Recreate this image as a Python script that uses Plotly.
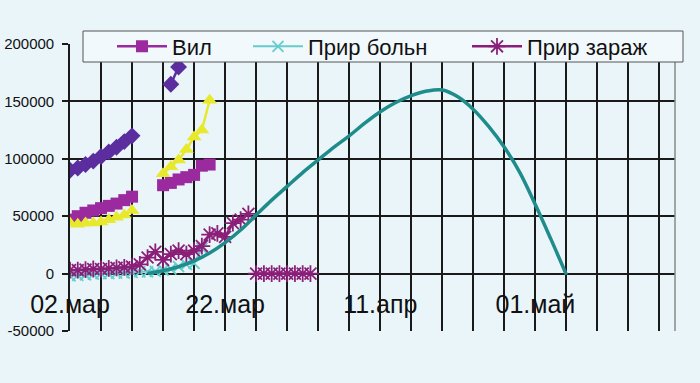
import plotly.graph_objects as go

# ---- data (x = days since 02.мар) ----
tick_days = [0, 20, 40, 60]
tick_labels = ["02.мар", "22.мар", "11.апр", "01.май"]
y_ticks = [-50000, 0, 50000, 100000, 150000, 200000]
y_tick_labels = ["-50000", "0", "50000", "100000", "150000", "200000"]

days_a = [0, 1, 2, 3, 4, 5, 6, 7, 8]
diamond_a = [90000, 92000, 95000, 98000, 102000, 106000, 110000, 115000, 120000]
days_diamond_b = [13, 14]
diamond_b = [165000, 180000]

vyl_a = [47000, 50000, 53000, 55000, 57000, 59000, 61000, 64000, 67000]
days_b = [12, 13, 14, 15, 16, 17, 18]
vyl_b = [77000, 79000, 82000, 84000, 86000, 94000, 95000]

yellow_a = [44000, 43000, 44000, 44000, 45000, 47000, 49000, 51000, 55000]
yellow_b = [87000, 93000, 99000, 108000, 119000, 125000, 151000]

days_bol = list(range(0, 18))
prir_boln = [-2000, -1500, -1000, -500, 0, 0, 500, 500, 1000, 1500, 1500,
             2000, 3000, 4000, 6000, 8000, 9000, 22000]

days_zar_a = list(range(0, 24))
prir_zar_a = [3000, 3000, 3500, 4000, 4000, 4500, 5000, 5500, 6000, 8000,
              14000, 19000, 12000, 17000, 20000, 17000, 20000, 24000, 34000,
              35000, 32000, 44000, 47000, 52000]
days_zar_b = [24, 25, 26, 27, 28, 29, 30, 31]
prir_zar_b = [0, 0, 0, 0, 0, 0, 0, 0]

curve_days = [10, 12, 14, 16, 18, 20, 22, 24, 26, 28, 30, 32, 34, 36, 38, 40,
              42, 44, 46, 48, 50, 52, 54, 56, 58, 60, 62, 64]
curve_vals = [0, 2500, 6000, 11000, 18000, 27000, 38000, 51000, 64000, 76000,
              88000, 99000, 110000, 120000, 131000, 141000, 149000, 155000,
              159000, 160000, 154000, 143000, 128000, 110000, 88000, 60000,
              30000, -1000]

C_VYL = "#9b2a9f"
C_BOL = "#66cccc"
C_ZAR = "#8b1f78"
C_DIA = "#5b2d9e"
C_YEL = "#e8e82c"
C_CUR = "#1f8c8c"
BG = "#eaf5fa"
FONT = "Arial, Liberation Sans, sans-serif"
W, H = 700, 383
ML, MR, MT, MB = 70, 25, 44, 52
PW, PH = W - ML - MR, H - MT - MB


def seg(xa, ya, xb, yb):
    return list(xa) + [None] + list(xb), list(ya) + [None] + list(yb)


def px_x(px):  # pixel -> paper (plot-area) x
    return (px - ML) / PW


def px_y(py):  # pixel -> paper (plot-area) y
    return (H - MB - py) / PH


fig = go.Figure()

x, y = seg(days_a, diamond_a, days_diamond_b, diamond_b)
fig.add_trace(go.Scatter(x=x, y=y, mode="lines+markers", showlegend=False,
                         line=dict(color=C_DIA, width=2.5),
                         marker=dict(symbol="diamond", size=13, color=C_DIA)))

x, y = seg(days_a, vyl_a, days_b, vyl_b)
fig.add_trace(go.Scatter(x=x, y=y, mode="lines+markers", name="Вил",
                         legend="legend",
                         line=dict(color=C_VYL, width=2.5),
                         marker=dict(symbol="square", size=12, color=C_VYL)))

x, y = seg(days_a, yellow_a, days_b, yellow_b)
fig.add_trace(go.Scatter(x=x, y=y, mode="lines+markers", showlegend=False,
                         line=dict(color=C_YEL, width=2.5),
                         marker=dict(symbol="triangle-up", size=13, color=C_YEL)))

fig.add_trace(go.Scatter(x=days_bol, y=prir_boln, mode="lines+markers",
                         name="Прир больн", legend="legend2",
                         line=dict(color=C_BOL, width=2),
                         marker=dict(symbol="x-thin-open", size=11,
                                     line=dict(color=C_BOL, width=1.8))))

x, y = seg(days_zar_a, prir_zar_a, days_zar_b, prir_zar_b)
fig.add_trace(go.Scatter(x=x, y=y, mode="lines+markers", name="Прир зараж",
                         legend="legend3",
                         line=dict(color=C_ZAR, width=2.5),
                         marker=dict(symbol="asterisk-open", size=14,
                                     line=dict(color=C_ZAR, width=1.8))))

fig.add_trace(go.Scatter(x=curve_days, y=curve_vals, mode="lines",
                         xaxis="x2", showlegend=False,
                         line=dict(color=C_CUR, width=3.5, shape="spline")))

grid = "#1a1a1a"
leg_common = dict(orientation="h", xanchor="left", yanchor="middle",
                  bgcolor="rgba(0,0,0,0)", borderwidth=0,
                  font=dict(size=22, family=FONT, color="#111"),
                  itemwidth=50)
leg_y = px_y(46.5)

fig.update_layout(
    width=W, height=H,
    margin=dict(l=ML, r=MR, t=MT, b=MB, autoexpand=False),
    paper_bgcolor=BG, plot_bgcolor=BG,
    font=dict(family=FONT, color="#111111"),
    xaxis=dict(range=[0, 78], tickmode="array", tickvals=tick_days,
               showticklabels=False, ticks="",
               showgrid=True, gridcolor=grid, gridwidth=1.6,
               minor=dict(tick0=0, dtick=4, showgrid=True, gridcolor=grid,
                          gridwidth=1.6),
               showline=False, zeroline=False, fixedrange=True),
    xaxis2=dict(overlaying="x", matches="x", anchor="free", position=0.2,
                tickmode="array", tickvals=tick_days, ticktext=tick_labels,
                tickfont=dict(size=25, color="#111"), ticks="",
                ticklabelstandoff=13, showgrid=False, zeroline=False,
                showline=False, fixedrange=True),
    yaxis=dict(range=[-50000, 200000], tickmode="array", tickvals=y_ticks,
               ticktext=y_tick_labels, tickfont=dict(size=15, color="#111"),
               ticklabelstandoff=5,
               showgrid=True, gridcolor=grid, gridwidth=1.6,
               zeroline=True, zerolinecolor=grid, zerolinewidth=1.6,
               showline=True, linecolor=grid, linewidth=1.6,
               ticks="outside", ticklen=6, tickcolor=grid, tickwidth=1.5,
               fixedrange=True),
    legend=dict(x=px_x(117 - 5), y=leg_y, **leg_common),
    legend2=dict(x=px_x(253 - 5), y=leg_y, **leg_common),
    legend3=dict(x=px_x(472 - 5), y=leg_y, **leg_common),
    shapes=[
        dict(type="line", xref="x domain", yref="y domain",
             x0=1, x1=1, y0=0, y1=1,
             line=dict(color="#888888", width=1.5)),
        dict(type="rect", xref="paper", yref="paper", layer="above",
             x0=px_x(83), x1=px_x(683), y0=px_y(62), y1=px_y(31),
             fillcolor="#f2f9fc", line=dict(color="#555555", width=1)),
    ],
)

fig.write_html("out.html", config={"displayModeBar": False},
               post_script="document.body.style.margin='0';")
